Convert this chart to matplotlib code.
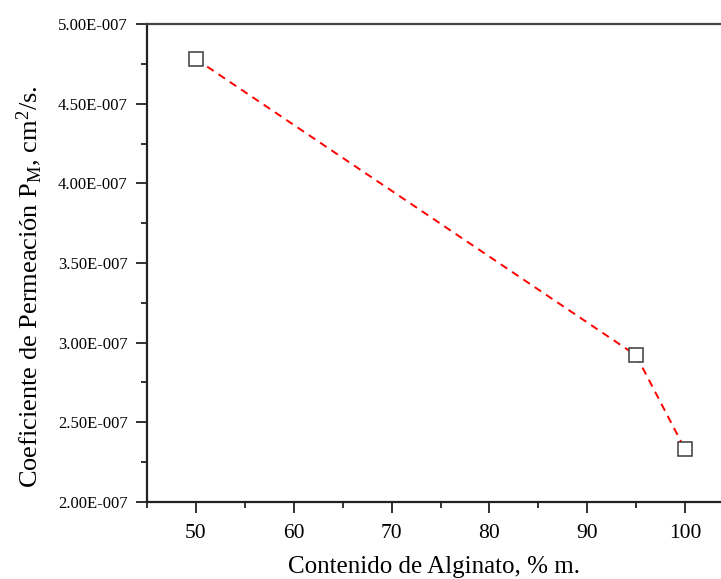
import matplotlib
matplotlib.use("Agg")
import matplotlib.pyplot as plt
from matplotlib.ticker import FuncFormatter, MultipleLocator

plt.rcParams['font.family'] = ['Liberation Serif', 'DejaVu Serif']
plt.rcParams['mathtext.fontset'] = 'custom'
plt.rcParams['mathtext.rm'] = 'Liberation Serif'
plt.rcParams['mathtext.it'] = 'Liberation Serif:italic'

alginate = [50, 95, 100]
permeation = [4.78e-7, 2.92e-7, 2.33e-7]

fig = plt.figure(figsize=(7.21, 5.79), dpi=100)
ax = fig.add_axes([147/721, 1-502/579, 587/721, 478/579])

ax.plot(alginate, permeation, color='red', linestyle=(0, (4, 3)), linewidth=1.4, zorder=2)
ax.plot(alginate, permeation, linestyle='none', marker='s', markersize=9.5,
        markerfacecolor='white', markeredgecolor='#3a3a3a', markeredgewidth=1.1, zorder=3)

ax.set_xlim(45, 105)
ax.set_ylim(2.0e-7, 5.0e-7)
ax.xaxis.set_major_locator(MultipleLocator(10))
ax.xaxis.set_minor_locator(MultipleLocator(5))
ax.yaxis.set_major_locator(MultipleLocator(0.5e-7))
ax.yaxis.set_minor_locator(MultipleLocator(0.25e-7))

def fmt(v, pos):
    s = f"{v:.2E}"
    mant, ex = s.split('E')
    sign = '-' if int(ex) < 0 else '+'
    return f"{mant}E{sign}{abs(int(ex)):03d}"

ax.yaxis.set_major_formatter(FuncFormatter(fmt))
ax.tick_params(axis='both', which='major', direction='out', length=8, width=1.3, color='#222222')
ax.tick_params(axis='both', which='minor', direction='out', length=4, width=1.3, color='#222222')
ax.tick_params(axis='y', labelsize=12, pad=6)
ax.tick_params(axis='x', labelsize=15.5, pad=8)
ax.tick_params(top=False, right=False, which='both')

for s in ax.spines.values():
    s.set_linewidth(1.6)
    s.set_color('#222222')
ax.spines['top'].set_color('#444444')

ax.set_xlabel('Contenido de Alginato, % m.', fontsize=18)
ax.set_ylabel(r'Coeficiente de Permeación P$_\mathregular{M}$, cm$^\mathregular{2}$/s.', fontsize=19)
ax.yaxis.set_label_coords(-0.175, 0.45)
ax.xaxis.set_label_coords(0.489, -0.113)

fig.savefig('out.png', dpi=100)
